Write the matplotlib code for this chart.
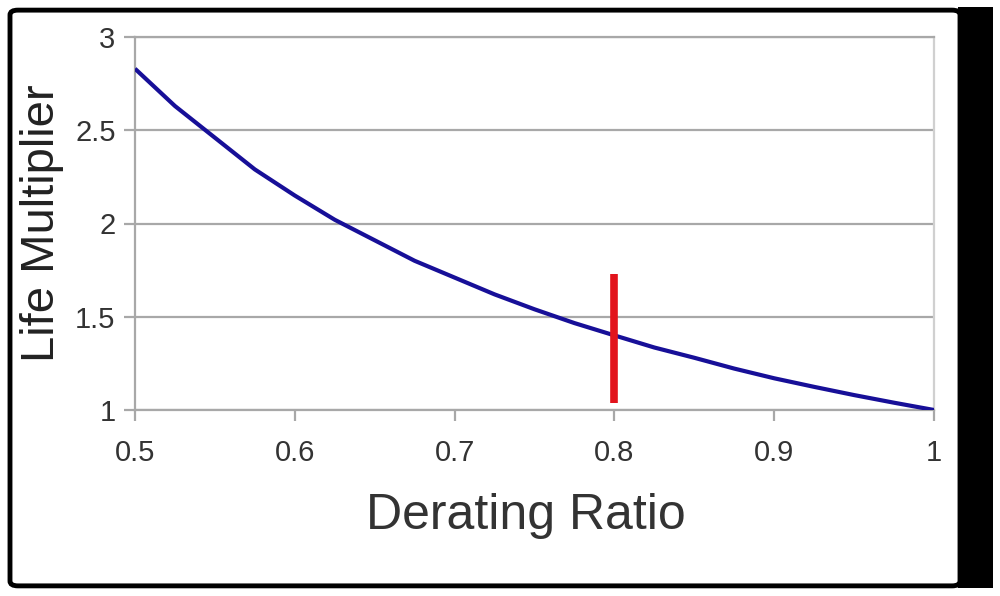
import matplotlib.pyplot as plt
from matplotlib.patches import FancyBboxPatch, Rectangle

# values
derating = [0.5, 0.525, 0.55, 0.575, 0.6, 0.625, 0.65, 0.675, 0.7, 0.725,
            0.75, 0.775, 0.8, 0.825, 0.85, 0.875, 0.9, 0.925, 0.95, 0.975, 1.0]
life_mult = [2.83, 2.63, 2.46, 2.29, 2.15, 2.02, 1.91, 1.80, 1.71, 1.62,
             1.54, 1.466, 1.40, 1.335, 1.28, 1.222, 1.17, 1.124, 1.08, 1.039, 1.00]

marker_x = 0.8
marker_y = [1.04, 1.73]

x_ticks = [0.5, 0.6, 0.7, 0.8, 0.9, 1.0]
x_labels = ["0.5", "0.6", "0.7", "0.8", "0.9", "1"]
y_ticks = [1, 1.5, 2, 2.5, 3]
y_labels = ["1", "1.5", "2", "2.5", "3"]

plt.rcParams['font.family'] = ['Liberation Sans', 'DejaVu Sans']

fig = plt.figure(figsize=(10, 5.96), dpi=100)

# black frame and dark bar on the right, kept behind the axes
frame = FancyBboxPatch((0.010, 0.017), 0.95, 0.966,
                       boxstyle="round,pad=0,rounding_size=0.008",
                       transform=fig.transFigure, facecolor="white",
                       edgecolor="black", linewidth=3.5, zorder=-2)
fig.patches.append(frame)
bar = Rectangle((0.958, 0.013), 0.035, 0.975, transform=fig.transFigure,
                facecolor="black", edgecolor="none", zorder=-1)
fig.patches.append(bar)

ax = fig.add_axes([0.135, 0.3121, 0.799, 0.6258])
ax.set_facecolor("none")

ax.plot(derating, life_mult, color="#170f98", linewidth=3, zorder=3,
        solid_capstyle="butt", solid_joinstyle="round")
ax.plot([marker_x, marker_x], marker_y, color="#e2141c", linewidth=5.5,
        zorder=4, solid_capstyle="butt")

ax.set_xlim(0.5, 1.0)
ax.set_ylim(1, 3)
ax.set_xticks(x_ticks)
ax.set_xticklabels(x_labels)
ax.set_yticks(y_ticks)
ax.set_yticklabels(y_labels)

ax.grid(axis="y", color="#a8a8a8", linewidth=1.6)
ax.set_axisbelow(True)
for side in ["left", "bottom", "right", "top"]:
    ax.spines[side].set_color("#a8a8a8")
    ax.spines[side].set_linewidth(1.6)
ax.spines["right"].set_color("#d0d0d0")

ax.tick_params(axis="both", direction="out", length=8, width=1.6,
               color="#a8a8a8", labelsize=21, labelcolor="#333333")
ax.tick_params(axis="x", pad=13)
ax.tick_params(axis="y", pad=6)

ax.set_xlabel("Derating Ratio", fontsize=36, color="#333333")
ax.xaxis.set_label_coords(0.489, -0.222)
ax.set_ylabel("Life Multiplier", fontsize=34, color="#222222")
ax.yaxis.set_label_coords(-0.089, 0.5)

fig.savefig("out.png", dpi=100)
